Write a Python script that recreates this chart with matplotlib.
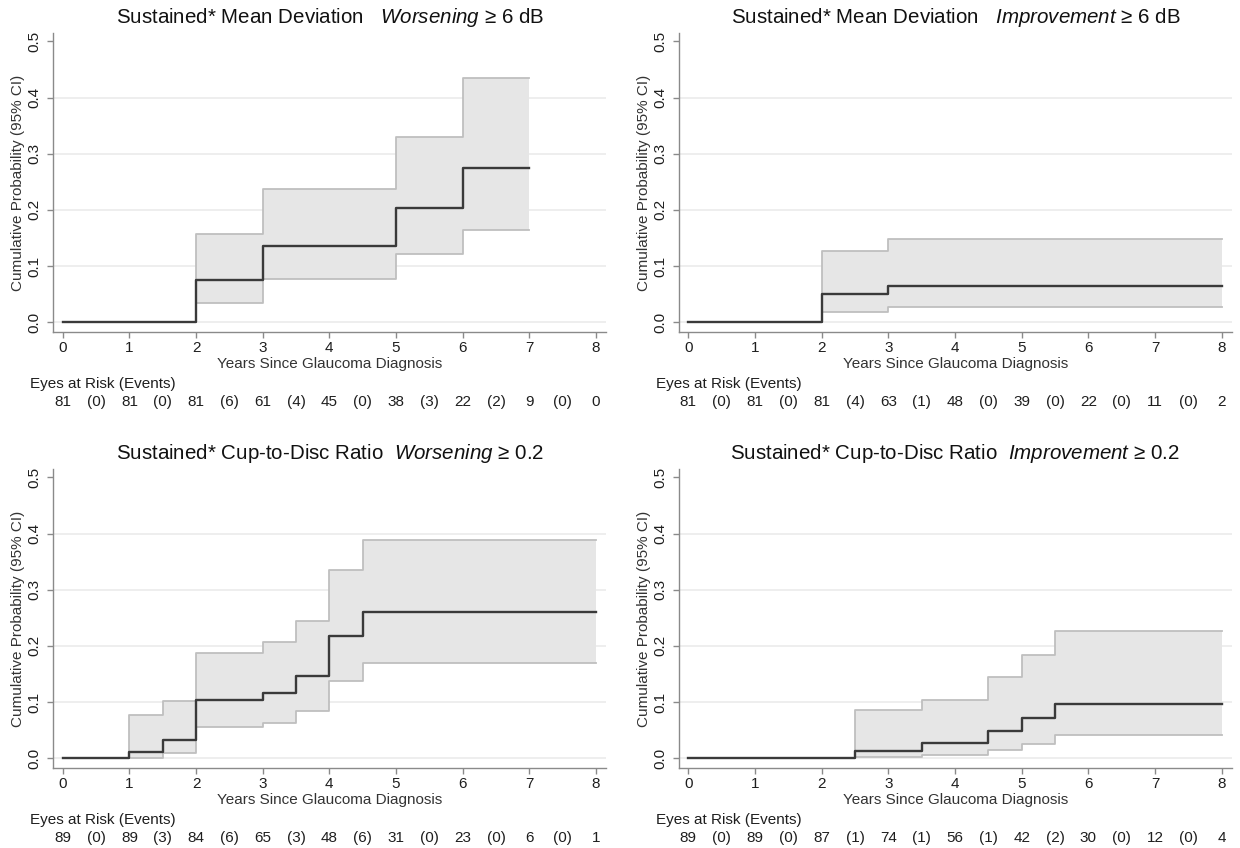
import matplotlib
matplotlib.use("Agg")
import matplotlib.pyplot as plt

plt.rcParams['font.family'] = ['Liberation Sans', 'DejaVu Sans']
plt.rcParams['mathtext.fontset'] = 'custom'
plt.rcParams['mathtext.it'] = 'Liberation Sans:italic'
plt.rcParams['mathtext.rm'] = 'Liberation Sans'

# ---------------- data ----------------
titles = [
    ("Sustained* Mean Deviation   ", "Worsening", " \u2265 6 dB"),
    ("Sustained* Mean Deviation   ", "Improvement", " \u2265 6 dB"),
    ("Sustained* Cup-to-Disc Ratio  ", "Worsening", " \u2265 0.2"),
    ("Sustained* Cup-to-Disc Ratio  ", "Improvement", " \u2265 0.2"),
]

md_wors_t = [0, 2, 3, 5, 6, 7]
md_wors_est = [0, 0.075, 0.136, 0.203, 0.275, 0.275]
md_wors_lo = [0, 0.034, 0.076, 0.121, 0.165, 0.165]
md_wors_hi = [0, 0.157, 0.237, 0.330, 0.435, 0.435]

md_impr_t = [0, 2, 3, 8]
md_impr_est = [0, 0.050, 0.065, 0.065]
md_impr_lo = [0, 0.018, 0.027, 0.027]
md_impr_hi = [0, 0.126, 0.149, 0.149]

cdr_wors_t = [0, 1, 1.5, 2, 3, 3.5, 4, 4.5, 8]
cdr_wors_est = [0, 0.011, 0.033, 0.103, 0.116, 0.147, 0.218, 0.260, 0.260]
cdr_wors_lo = [0, 0.001, 0.010, 0.055, 0.063, 0.084, 0.138, 0.169, 0.169]
cdr_wors_hi = [0, 0.077, 0.101, 0.188, 0.207, 0.245, 0.336, 0.388, 0.388]

cdr_impr_t = [0, 2.5, 3.5, 4.5, 5, 5.5, 8]
cdr_impr_est = [0, 0.012, 0.027, 0.048, 0.071, 0.097, 0.097]
cdr_impr_lo = [0, 0.002, 0.006, 0.015, 0.026, 0.041, 0.041]
cdr_impr_hi = [0, 0.085, 0.104, 0.145, 0.183, 0.226, 0.226]

risk_years = [0, 1, 2, 3, 4, 5, 6, 7, 8]
md_wors_risk = [81, 81, 81, 61, 45, 38, 22, 9, 0]
md_wors_events = [0, 0, 6, 4, 0, 3, 2, 0]
md_impr_risk = [81, 81, 81, 63, 48, 39, 22, 11, 2]
md_impr_events = [0, 0, 4, 1, 0, 0, 0, 0]
cdr_wors_risk = [89, 89, 84, 65, 48, 31, 23, 6, 1]
cdr_wors_events = [0, 3, 6, 3, 6, 0, 0, 0]
cdr_impr_risk = [89, 89, 87, 74, 56, 42, 30, 12, 4]
cdr_impr_events = [0, 0, 1, 1, 1, 2, 0, 0]

y_ticks = [0.0, 0.1, 0.2, 0.3, 0.4, 0.5]
x_ticks = [0, 1, 2, 3, 4, 5, 6, 7, 8]

panels = [
    (md_wors_t, md_wors_est, md_wors_lo, md_wors_hi, md_wors_risk, md_wors_events),
    (md_impr_t, md_impr_est, md_impr_lo, md_impr_hi, md_impr_risk, md_impr_events),
    (cdr_wors_t, cdr_wors_est, cdr_wors_lo, cdr_wors_hi, cdr_wors_risk, cdr_wors_events),
    (cdr_impr_t, cdr_impr_est, cdr_impr_lo, cdr_impr_hi, cdr_impr_risk, cdr_impr_events),
]

# ---------------- layout (pixels) ----------------
W, H = 1240, 848
boxes = [  # left, right, top, bottom
    (53.4, 606.0, 33, 332),
    (679.0, 1231.7, 33, 332),
    (53.4, 606.0, 469, 768),
    (679.0, 1231.7, 469, 768),
]

fig = plt.figure(figsize=(W / 100, H / 100), dpi=100)
fig.patch.set_facecolor('white')

axis_col = '#8a8a8a'
txt_col = '#1e1e1e'
fs = 11

for (l, r, t, b), title, data in zip(boxes, titles, panels):
    ax = fig.add_axes([l / W, 1 - b / H, (r - l) / W, (b - t) / H])
    times, est, lo, hi, risk, events = data

    ax.set_xlim(-0.14, 8.15)
    ax.set_ylim(-0.0175, 0.515)

    ax.fill_between(times, lo, hi, step='post', color='#e6e6e6', lw=0, zorder=2)
    ax.step(times, lo, where='post', color='#bfbfbf', lw=1.3, zorder=3)
    ax.step(times, hi, where='post', color='#bfbfbf', lw=1.3, zorder=3)
    ax.step(times, est, where='post', color='#3a3a3a', lw=1.7, zorder=4)

    ax.set_xticks(x_ticks)
    ax.set_yticks(y_ticks)
    ax.set_yticklabels([f"{v:.1f}" for v in y_ticks])
    ax.yaxis.grid(True, color='#ebebeb', lw=1.2, zorder=0)
    ax.get_ygridlines()[-1].set_visible(False)
    ax.set_axisbelow(True)

    for s in ['top', 'right']:
        ax.spines[s].set_visible(False)
    for s in ['left', 'bottom']:
        ax.spines[s].set_color(axis_col)
        ax.spines[s].set_linewidth(1.0)
    ax.tick_params(axis='both', colors=axis_col, labelcolor=txt_col,
                   length=4.2, width=1.0, labelsize=fs, direction='out')
    ax.tick_params(axis='y', labelrotation=90, pad=4.2)
    ax.tick_params(axis='x', pad=2.3)
    for lab in ax.get_yticklabels():
        lab.set_va('center')

    ax.set_ylabel("Cumulative Probability (95% CI)", fontsize=fs, color='#333333')
    ax.yaxis.set_label_coords(-0.064, 0.5)
    ax.yaxis.label.set_va('center')
    ax.set_xlabel("Years Since Glaucoma Diagnosis", fontsize=fs, color='#333333')
    ax.xaxis.set_label_coords(0.5, -0.108)
    ax.xaxis.label.set_va('center')

    pre, it, post = title
    ax.text(0.5, 1.052, pre + r"$\mathit{" + it + "}$" + post, transform=ax.transAxes,
            ha='center', va='center', fontsize=14.8, color='#111111')

    tr = ax.get_xaxis_transform()
    ax.text(-0.042, -0.173, "Eyes at Risk (Events)", transform=ax.transAxes,
            ha='left', va='center', fontsize=fs, color=txt_col)
    for x, n in zip(risk_years, risk):
        ax.text(x, -0.233, str(n), transform=tr, ha='center', va='center',
                fontsize=fs, color=txt_col)
    for x, e in zip(risk_years[:-1], events):
        ax.text(x + 0.5, -0.233, f"({e})", transform=tr, ha='center', va='center',
                fontsize=fs, color=txt_col)

fig.savefig("out.png", dpi=100, facecolor='white')
